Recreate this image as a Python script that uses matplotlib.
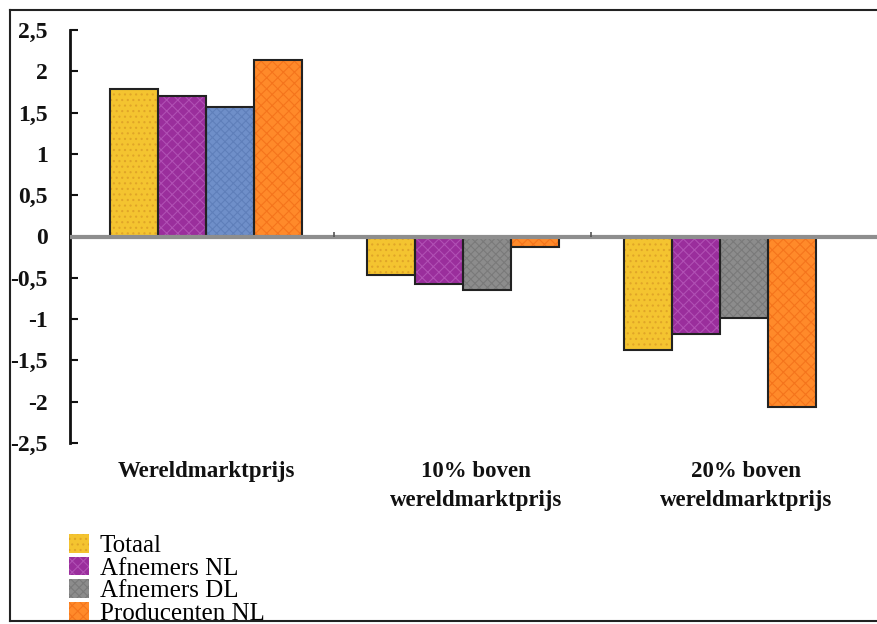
import matplotlib
matplotlib.use("Agg")
import matplotlib.pyplot as plt
from matplotlib.patches import Patch
from matplotlib.lines import Line2D
import numpy as np

# ---- data -------------------------------------------------------------
categories = ["Wereldmarktprijs", "10% boven\nwereldmarktprijs", "20% boven\nwereldmarktprijs"]
series_names = ["Totaal", "Afnemers NL", "Afnemers DL", "Producenten NL"]
totaal = [1.79, -0.47, -1.37]
afnemers_nl = [1.70, -0.58, -1.18]
afnemers_dl = [1.57, -0.65, -0.99]
producenten_nl = [2.14, -0.13, -2.07]
y_ticks = [2.5, 2.0, 1.5, 1.0, 0.5, 0.0, -0.5, -1.0, -1.5, -2.0, -2.5]
y_tick_labels = ["2,5", "2", "1,5", "1", "0,5", "0", "-0,5", "-1", "-1,5", "-2", "-2,5"]

values = [totaal, afnemers_nl, afnemers_dl, producenten_nl]

# ---- style ------------------------------------------------------------
fills = ["#F4C430", "#9A2E9C", "#8C8C8C", "#FF8A2A"]
dots = ["#E0A528", "#B050B4", "#7A7A7A", "#F5741C"]
# the third bar in the first group is drawn in blue
special_fill = {(2, 0): ("#6F8FC9", "#5F7FBA")}
hatches = ["...", "xxx", "xxxx", "xxx"]

plt.rcParams["hatch.linewidth"] = 0.8
serif = ["Liberation Serif", "DejaVu Serif"]

fig = plt.figure(figsize=(8.77, 6.24), dpi=100)
ax = fig.add_axes([70 / 877, (624 - 443) / 624, 1 - 70 / 877, (443 - 30) / 624])

x = np.arange(len(categories))
width = 0.187
offsets = (np.arange(len(series_names)) - 1.5) * width

for i, vals in enumerate(values):
    for j, v in enumerate(vals):
        fc, hc = special_fill.get((i, j), (fills[i], dots[i]))
        xpos = x[j] + offsets[i]
        ax.bar(xpos, v, width, color=fc, edgecolor="none", zorder=2)
        ax.bar(xpos, v, width, color="none", edgecolor=hc, hatch=hatches[i],
               linewidth=0, zorder=3)
        ax.bar(xpos, v, width, color="none", edgecolor="#222222",
               linewidth=1.5, zorder=4)

# zero line and category separators
ax.axhline(0, color="#8E8E8E", linewidth=3, zorder=5)
ax.vlines([0.5, 1.5], 0, 0.06, color="#555555", linewidth=1.2, zorder=5)

ax.set_xlim(-0.529, 2.611)
ax.set_ylim(-2.5, 2.5)

for s in ["top", "right", "bottom"]:
    ax.spines[s].set_visible(False)
ax.spines["left"].set_linewidth(2)
ax.spines["left"].set_color("#111111")

ax.set_yticks(y_ticks)
ax.set_yticklabels(y_tick_labels, fontfamily=serif, fontweight="bold", fontsize=17)
ax.tick_params(axis="y", direction="in", length=6, width=1.5, pad=16, colors="#111111")
ax.set_xticks([])

label_x = [0.0, 1.05, 2.1]
for lx, lab in zip(label_x, categories):
    ax.text(lx, -2.72, lab, ha="center", va="top", fontfamily=serif,
            fontweight="bold", fontsize=16.5, linespacing=1.5, color="#111111")

# legend
handles = []
for i, name in enumerate(series_names):
    handles.append(Patch(facecolor=fills[i], edgecolor=dots[i], hatch=hatches[i],
                         linewidth=0))
leg = fig.legend(handles, series_names, loc="upper left",
                 bbox_to_anchor=(69 / 877, 1 - 534 / 624), frameon=False,
                 prop={"family": serif, "size": 18}, handlelength=0.78,
                 handleheight=0.78, handletextpad=0.45, labelspacing=-0.02,
                 borderpad=0, borderaxespad=0)

# outer frame
frame_kw = dict(color="#222222", linewidth=1.5, transform=fig.transFigure, zorder=10)
fig.add_artist(Line2D([10 / 877, 1.0], [1 - 10 / 624, 1 - 10 / 624], **frame_kw))
fig.add_artist(Line2D([10 / 877, 10 / 877], [1 - 10 / 624, 1 - 621 / 624], **frame_kw))
fig.add_artist(Line2D([10 / 877, 1.0], [1 - 621 / 624, 1 - 621 / 624], **frame_kw))

fig.savefig("out.png", dpi=100)
